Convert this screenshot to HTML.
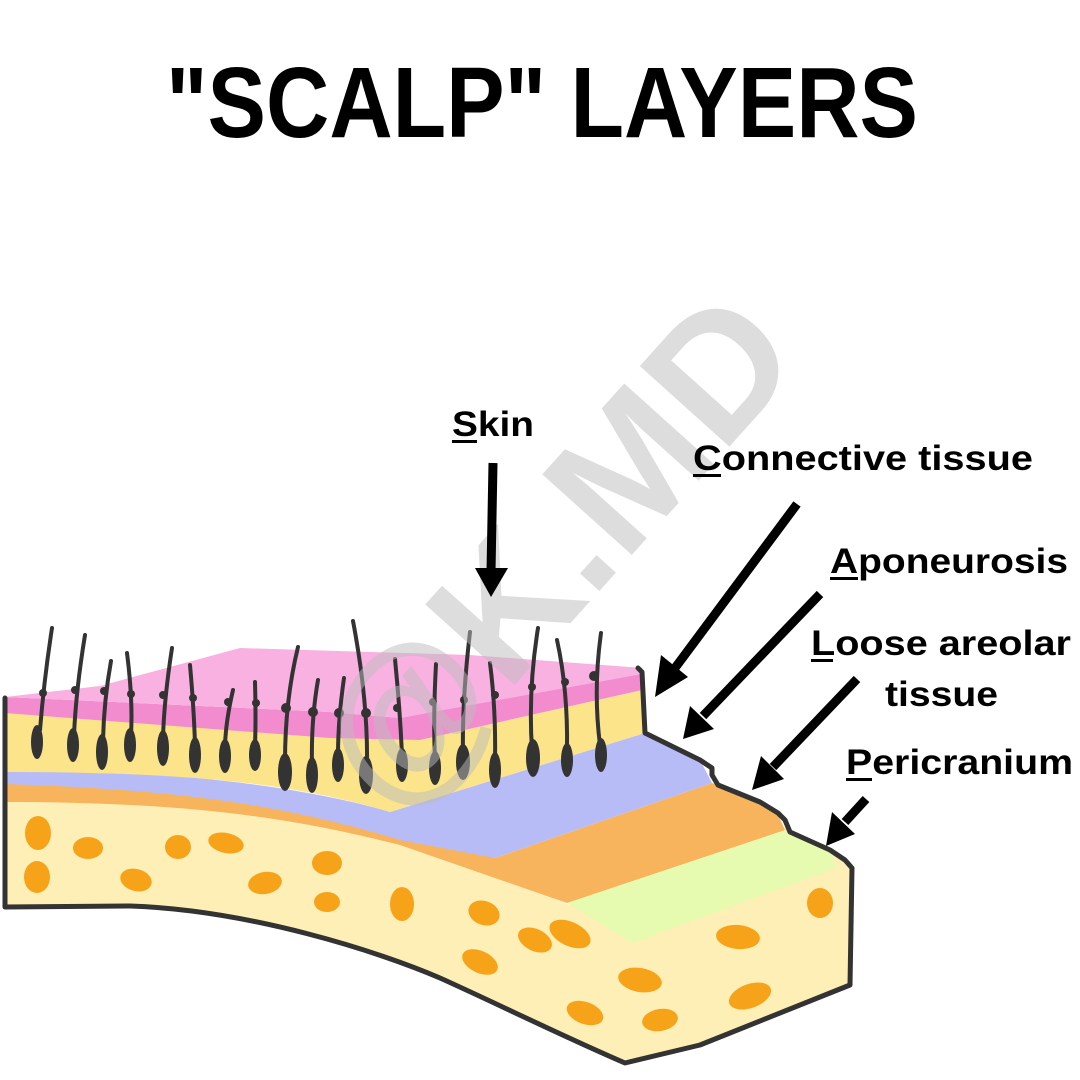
<!DOCTYPE html>
<html><head><meta charset="utf-8"><style>
html,body{margin:0;padding:0;background:#fff;}
svg{display:block;}
</style></head><body>
<svg width="1080" height="1080" viewBox="0 0 1080 1080" xmlns="http://www.w3.org/2000/svg">
<rect width="1080" height="1080" fill="#fff"/>
<text x="166" y="137" font-family="Liberation Sans, Arial, sans-serif" font-weight="bold" font-size="100" textLength="752" lengthAdjust="spacingAndGlyphs">"SCALP" LAYERS</text>

<!-- bone -->
<path d="M5,780 C150,780 300,805 400,835 L570,905 L785,828 L830,848 L850,862 L852,985 L700,1045 L625,1063 C560,1035 500,1005 440,978 C380,952 250,910 130,906 L5,906 Z" fill="#fdefb5"/>
<!-- green -->
<path d="M567,903 L785,830 L830,850 L836,868 L633,943 Z" fill="#e6fbb0"/>
<!-- orange -->
<path d="M5,782 C150,780 300,800 400,830 L495,858 L712,783 L760,800 L778,815 L785,830 L567,903 L400,845 C300,820 200,802 5,802 Z" fill="#f8b45c"/>
<!-- blue -->
<path d="M5,770 C150,768 300,785 390,812 L645,733 L700,760 L712,783 L495,858 L400,840 C300,810 200,790 5,784 Z" fill="#b7bcf7"/>
<!-- yellow -->
<path d="M5,712 L330,737 L420,740 L642,690 L645,733 L390,812 C300,785 200,772 5,772 Z" fill="#fbe48a"/>
<!-- dark pink -->
<path d="M5,697 L330,712 L400,718 L642,672 L642,690 L420,740 L330,738 L5,713 Z" fill="#f38ccf"/>
<!-- light pink top -->
<path d="M5,697 L100,686 L240,648 L470,655 L642,668 L642,674 L400,718 L330,712 Z" fill="#f9b1e2"/>

<!-- bone spots -->
<g fill="#f6a31a">
<ellipse cx="38" cy="833" rx="13" ry="17"/>
<ellipse cx="88" cy="848" rx="15" ry="11"/>
<ellipse cx="178" cy="847" rx="13" ry="12"/>
<ellipse cx="226" cy="843" rx="18" ry="10" transform="rotate(12 226 843)"/>
<ellipse cx="37" cy="877" rx="13" ry="16"/>
<ellipse cx="136" cy="880" rx="16" ry="11" transform="rotate(15 136 880)"/>
<ellipse cx="265" cy="883" rx="17" ry="11" transform="rotate(-10 265 883)"/>
<ellipse cx="327" cy="863" rx="15" ry="12"/>
<ellipse cx="327" cy="902" rx="13" ry="10"/>
<ellipse cx="402" cy="904" rx="12" ry="17"/>
<ellipse cx="484" cy="913" rx="16" ry="12" transform="rotate(20 484 913)"/>
<ellipse cx="570" cy="934" rx="22" ry="12" transform="rotate(25 570 934)"/>
<ellipse cx="535" cy="940" rx="18" ry="11" transform="rotate(25 535 940)"/>
<ellipse cx="480" cy="962" rx="19" ry="11" transform="rotate(25 480 962)"/>
<ellipse cx="640" cy="980" rx="22" ry="12" transform="rotate(10 640 980)"/>
<ellipse cx="585" cy="1013" rx="19" ry="11" transform="rotate(20 585 1013)"/>
<ellipse cx="660" cy="1020" rx="18" ry="11" transform="rotate(-10 660 1020)"/>
<ellipse cx="738" cy="937" rx="22" ry="12" transform="rotate(5 738 937)"/>
<ellipse cx="750" cy="996" rx="22" ry="12" transform="rotate(-20 750 996)"/>
<ellipse cx="820" cy="903" rx="13" ry="15"/>
</g>

<!-- outline -->
<path d="M5,698 L5,907 L130,906 C250,910 380,952 440,978 C500,1005 560,1035 625,1063 L700,1045 L850,985 L852,868 L845,860 L830,850 L790,832 L785,820 L778,813 L760,802 L718,785 L712,775 L712,768 L700,760 L645,733 L642,672 L638,668" fill="none" stroke="#333" stroke-width="5" stroke-linejoin="round" stroke-linecap="round"/>

<!-- hairs -->
<g stroke="#333" stroke-width="4" fill="none" stroke-linecap="round">
<path d="M52,628 Q44,680 40,730"/>
<path d="M85,635 Q76,690 74,735"/>
<path d="M111,661 Q104,700 103,740"/>
<path d="M127,653 Q133,700 131,735"/>
<path d="M172,648 Q164,700 163,738"/>
<path d="M190,665 Q194,710 195,745"/>
<path d="M233,690 Q226,720 225,745"/>
<path d="M255,682 Q256,720 255,745"/>
<path d="M298,647 Q285,700 285,762"/>
<path d="M318,680 Q311,720 312,765"/>
<path d="M344,678 Q338,720 338,755"/>
<path d="M353,621 Q368,700 367,765"/>
<path d="M395,659 Q400,710 402,755"/>
<path d="M436,664 Q433,720 435,758"/>
<path d="M470,632 Q462,700 463,752"/>
<path d="M490,663 Q496,710 495,760"/>
<path d="M538,628 Q528,690 532,750"/>
<path d="M557,640 Q568,690 567,750"/>
<path d="M601,633 Q593,690 600,745"/>
</g>
<g fill="#333">
<ellipse cx="37" cy="742" rx="6" ry="17"/>
<ellipse cx="73" cy="745" rx="6" ry="17"/>
<ellipse cx="102" cy="752" rx="6" ry="18"/>
<ellipse cx="130" cy="745" rx="6" ry="17"/>
<ellipse cx="163" cy="748" rx="6" ry="18"/>
<ellipse cx="195" cy="755" rx="6" ry="18"/>
<ellipse cx="225" cy="756" rx="6" ry="17"/>
<ellipse cx="255" cy="755" rx="6" ry="16"/>
<ellipse cx="285" cy="772" rx="7" ry="19"/>
<ellipse cx="312" cy="775" rx="6" ry="18"/>
<ellipse cx="338" cy="765" rx="6" ry="17"/>
<ellipse cx="366" cy="775" rx="7" ry="19"/>
<ellipse cx="402" cy="765" rx="6" ry="17"/>
<ellipse cx="435" cy="768" rx="6" ry="17"/>
<ellipse cx="463" cy="762" rx="7" ry="18"/>
<ellipse cx="495" cy="770" rx="6" ry="18"/>
<ellipse cx="533" cy="758" rx="7" ry="19"/>
<ellipse cx="567" cy="760" rx="6" ry="17"/>
<ellipse cx="601" cy="755" rx="6" ry="17"/>
<circle cx="43" cy="693" r="4"/><circle cx="75" cy="690" r="4"/><circle cx="104" cy="691" r="4"/>
<circle cx="131" cy="694" r="4"/><circle cx="163" cy="695" r="4"/><circle cx="193" cy="698" r="4"/>
<circle cx="228" cy="702" r="4"/><circle cx="256" cy="703" r="4"/><circle cx="286" cy="708" r="5"/>
<circle cx="313" cy="712" r="5"/><circle cx="339" cy="713" r="5"/><circle cx="366" cy="713" r="5"/>
<circle cx="397" cy="708" r="4"/><circle cx="433" cy="702" r="4"/><circle cx="464" cy="700" r="4"/>
<circle cx="495" cy="695" r="4"/><circle cx="532" cy="687" r="4"/><circle cx="565" cy="682" r="4"/><circle cx="594" cy="676" r="5"/>
</g>

<!-- watermark -->
<text x="0" y="0" transform="translate(565,560) rotate(-48)" text-anchor="middle" font-family="Liberation Sans, Arial, sans-serif" font-weight="bold" font-size="175" fill="#bbbbbb" fill-opacity="0.5" dominant-baseline="middle">@K.MD</text>

<!-- arrows -->
<g stroke="#000" stroke-width="9" stroke-linecap="butt">
<line x1="493" y1="463" x2="491" y2="572"/>
<line x1="797" y1="504" x2="675" y2="668"/>
<line x1="820" y1="594" x2="703" y2="716"/>
<line x1="857" y1="679" x2="773" y2="767"/>
<line x1="866" y1="799" x2="845" y2="822"/>
</g>
<g fill="#000">
<polygon points="475,568 508,568 491,597"/>
<polygon points="661,655 688,677 655,697"/>
<polygon points="690,706 714,729 683,739"/>
<polygon points="761,756 784,779 752,790"/>
<polygon points="832,812 855,834 826,846"/>
</g>

<!-- labels -->
<g font-family="Liberation Sans, Arial, sans-serif" font-weight="bold" font-size="35" fill="#000">
<text x="452" y="436" textLength="82" lengthAdjust="spacingAndGlyphs">Skin</text>
<text x="693" y="470" textLength="340" lengthAdjust="spacingAndGlyphs">Connective tissue</text>
<text x="830" y="573" textLength="238" lengthAdjust="spacingAndGlyphs">Aponeurosis</text>
<text x="811" y="655" textLength="260" lengthAdjust="spacingAndGlyphs">Loose areolar</text>
<text x="885" y="706" textLength="113" lengthAdjust="spacingAndGlyphs">tissue</text>
<text x="846" y="774" textLength="227" lengthAdjust="spacingAndGlyphs">Pericranium</text>
</g>
<g fill="#000">
<rect x="452" y="440" width="25" height="3"/>
<rect x="693" y="474" width="28" height="3"/>
<rect x="830" y="577" width="28" height="3"/>
<rect x="811" y="659" width="22" height="3"/>
<rect x="846" y="778" width="26" height="3"/>
</g>
</svg>
</body></html>
